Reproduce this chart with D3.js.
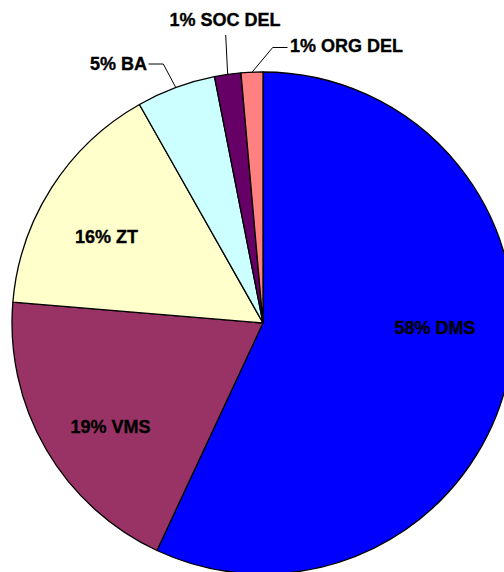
<!DOCTYPE html>
<html>
<head>
<meta charset="utf-8">
<script src="https://cdn.jsdelivr.net/npm/d3@7"></script>
<style>
html,body{margin:0;padding:0;background:#fff;overflow:hidden;}
svg{display:block;}
text{font-family:"Liberation Sans",Arial,sans-serif;font-weight:bold;font-size:18px;fill:#000;stroke:#000;stroke-width:0.35px;}
</style>
</head>
<body>
<svg id="chart" width="504" height="572"></svg>
<script>
// Data
const categories = ["DMS", "VMS", "ZT", "BA", "SOC DEL", "ORG DEL"];
const values = [57.0, 19.4, 15.5, 5.1, 1.7, 1.4];
const pctLabels = ["58%", "19%", "16%", "5%", "1%", "1%"];
const colors = ["#0000FF", "#993366", "#FFFFCC", "#CCFFFF", "#660066", "#FF8080"];

// Layout
const cx = 263, cy = 323, R = 251;
const labelLayout = [
  {inside: true, x: 435, y: 334},
  {inside: true, x: 110.5, y: 433},
  {inside: true, x: 106.5, y: 243},
  {inside: false, x: 147, y: 70, anchor: "end", elbow: [163.3, 64], end: [148.5, 64]},
  {inside: false, x: 225, y: 26, anchor: "middle", elbow: null, end: [225.7, 35]},
  {inside: false, x: 290, y: 52, anchor: "start", elbow: [272.7, 47.5], end: [287.5, 47.5]}
];

const svg = d3.select("#chart");
const g = svg.append("g").attr("transform", `translate(${cx},${cy})`);

const pie = d3.pie().sort(null).value(d => d.value).startAngle(0).endAngle(2 * Math.PI);
const data = categories.map((c, i) => ({cat: c, value: values[i], pct: pctLabels[i], color: colors[i], i}));
const arcs = pie(data);
const arc = d3.arc().innerRadius(0).outerRadius(R);

g.selectAll("path.slice")
  .data(arcs)
  .enter().append("path")
  .attr("class", "slice")
  .attr("d", arc)
  .attr("fill", d => d.data.color)
  .attr("stroke", "#000")
  .attr("stroke-width", 1.3)
  .attr("stroke-linejoin", "round");

arcs.forEach(a => {
  const L = labelLayout[a.data.i];
  const text = a.data.pct + " " + a.data.cat;
  if (!L.inside) {
    const mid = (a.startAngle + a.endAngle) / 2;
    const px = cx + R * Math.sin(mid), py = cy - R * Math.cos(mid);
    const pts = [[px, py]];
    if (L.elbow) pts.push(L.elbow);
    pts.push(L.end);
    svg.append("path")
      .attr("d", d3.line()(pts))
      .attr("fill", "none")
      .attr("stroke", "#000")
      .attr("stroke-width", 1);
    svg.append("text")
      .attr("x", L.x).attr("y", L.y)
      .attr("text-anchor", L.anchor)
      .text(text);
  } else {
    svg.append("text")
      .attr("x", L.x).attr("y", L.y)
      .attr("text-anchor", "middle")
      .text(text);
  }
});
</script>
</body>
</html>
